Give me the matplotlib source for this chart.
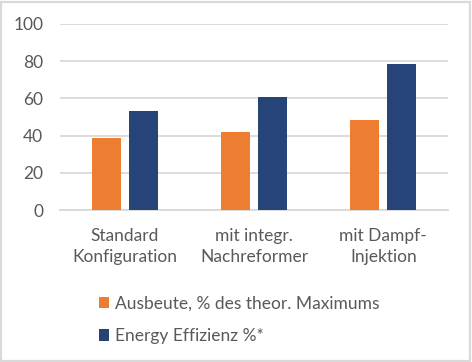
import numpy as np
import matplotlib
matplotlib.use("Agg")
import matplotlib.pyplot as plt
from matplotlib.patches import Rectangle

categories = ["Standard\nKonfiguration", "mit integr.\nNachreformer", "mit Dampf-\nInjektion"]
ausbeute = [38.9, 42.0, 48.4]
effizienz = [53.2, 60.7, 78.4]
series_names = ["Ausbeute, % des theor. Maximums", "Energy Effizienz %*"]
yticks = [0, 20, 40, 60, 80, 100]

orange = "#ed7d31"
navy = "#264478"
grey_txt = "#595959"

plt.rcParams['font.family'] = ['Lato', 'DejaVu Sans']

W, H = 472, 362
fig = plt.figure(figsize=(W / 100, H / 100), dpi=100)
fig.patch.set_facecolor("white")
fig.add_artist(Rectangle((1 / W, 1 / H), 1 - 3 / W, 1 - 3 / H, transform=fig.transFigure,
                         fill=False, edgecolor="#d9d9d9", linewidth=1.6))

ax = fig.add_axes([60 / W, (H - 210.3) / H, 388 / W, (210.3 - 23.7) / H])
x = np.arange(len(categories))
bw = 0.222
gap = 0.064
ax.bar(x - (bw + gap) / 2, ausbeute, bw, color=orange, label=series_names[0], zorder=3)
ax.bar(x + (bw + gap) / 2, effizienz, bw, color=navy, label=series_names[1], zorder=3)

ax.set_xlim(-0.5, len(categories) - 0.5)
ax.set_ylim(0, 100)
ax.set_yticks(yticks)
ax.yaxis.grid(True, color="#d9d9d9", linewidth=1.3, zorder=0)
ax.set_xticks(x)
ax.set_xticklabels(categories, fontsize=12.5, color=grey_txt, linespacing=1.35)
ax.tick_params(axis="y", labelsize=12.5, labelcolor=grey_txt, length=0, pad=12)
ax.tick_params(axis="x", length=0, pad=13)
for s in ["top", "right", "left"]:
    ax.spines[s].set_visible(False)
ax.spines["bottom"].set_color("#d9d9d9")
ax.spines["bottom"].set_linewidth(1.3)

fig.legend(loc="upper left", bbox_to_anchor=(83 / W, 1 - 280 / H), frameon=False,
           fontsize=12.5, labelcolor=grey_txt, handlelength=0.6, handleheight=0.6,
           handletextpad=0.35, labelspacing=0.95)

fig.savefig("out.png", dpi=100)
